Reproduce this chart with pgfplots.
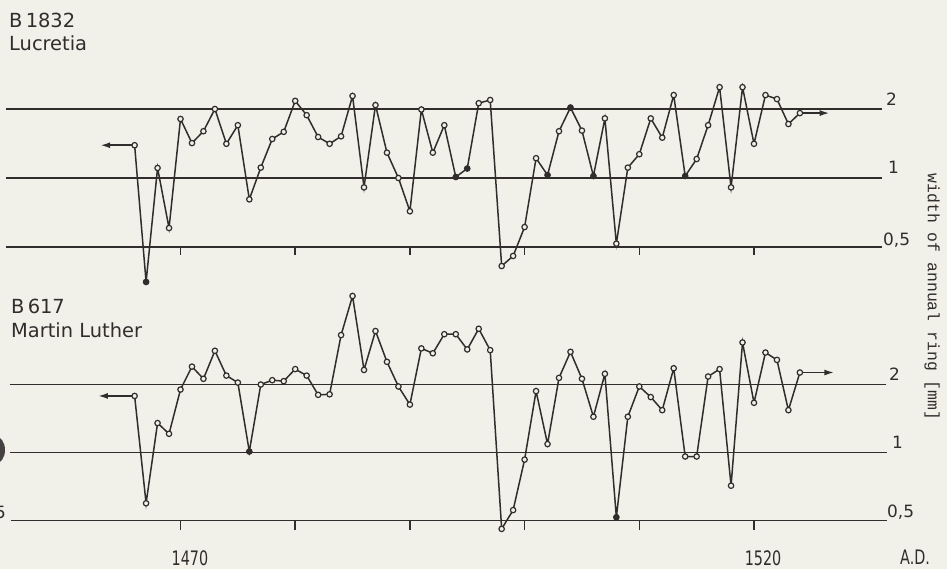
\documentclass[border=0pt]{standalone}
\usepackage{pgfplots}
\pgfplotsset{compat=1.18}
\usepackage{pgfplotstable}
\usepackage{fontspec}
\setmainfont{DejaVu Sans}
\setmonofont{Liberation Mono}
\newfontfamily\narrowfont{DejaVu Sans}[FakeStretch=0.72]
\usetikzlibrary{arrows.meta}
\definecolor{ink}{RGB}{50,45,45}
\definecolor{paper}{RGB}{241,240,233}

\pgfplotstableread{
year width
1466 1.39
1467 0.352
1468 1.106
1469 0.605
1470 1.81
1471 1.42
1472 1.60
1473 2.00
1474 1.41
1475 1.70
1476 0.807
1477 1.11
1478 1.48
1479 1.59
1480 2.17
1481 1.88
1482 1.51
1483 1.41
1484 1.52
1485 2.28
1486 0.91
1487 2.08
1488 1.29
1489 1.00
1490 0.716
1491 1.99
1492 1.29
1493 1.70
1494 1.01
1495 1.10
1496 2.12
1497 2.19
1498 0.413
1499 0.457
1500 0.611
1501 1.22
1502 1.03
1503 1.60
1504 2.03
1505 1.61
1506 1.02
1507 1.82
1508 0.517
1509 1.11
1510 1.27
1511 1.82
1512 1.50
1513 2.30
1514 1.02
1515 1.21
1516 1.70
1517 2.49
1518 0.91
1519 2.49
1520 1.41
1521 2.30
1522 2.21
1523 1.72
1524 1.92
}\lucretia

\pgfplotstableread{
year width
1467 0.352
1494 1.01
1495 1.10
1502 1.03
1504 2.03
1506 1.02
1514 1.02
}\lucretiafilled

\pgfplotstableread{
year width
1466 1.78
1467 0.596
1468 1.35
1469 1.21
1470 1.90
1471 2.40
1472 2.12
1473 2.82
1474 2.19
1475 2.04
1476 1.01
1477 2.00
1478 2.09
1479 2.07
1480 2.34
1481 2.19
1482 1.80
1483 1.81
1484 3.31
1485 4.93
1486 2.32
1487 3.45
1488 2.52
1489 1.96
1490 1.63
1491 2.89
1492 2.75
1493 3.34
1494 3.34
1495 2.86
1496 3.53
1497 2.84
1498 0.459
1499 0.556
1500 0.93
1501 1.87
1502 1.09
1503 2.14
1504 2.79
1505 2.12
1506 1.44
1507 2.23
1508 0.517
1509 1.44
1510 1.96
1511 1.76
1512 1.54
1513 2.36
1514 0.96
1515 0.96
1516 2.17
1517 2.34
1518 0.713
1519 3.07
1520 1.66
1521 2.77
1522 2.57
1523 1.54
1524 2.26
}\luther

\pgfplotstableread{
year width
1476 1.01
1508 0.517
}\lutherfilled

\pgfplotsset{
  series/.style={ink, line width=1.5bp, mark=*, mark size=2.7bp,
    mark options={fill=paper, draw=ink, line width=1.2bp}},
  filledmarks/.style={only marks, mark=*, mark size=2.7bp,
    mark options={fill=ink, draw=ink}},
  refline/.style={ink, line width=1.4bp},
  tickmark/.style={ink, line width=1.5bp},
  arrowline/.style={ink, line width=1.8bp, -{Latex[length=10bp,width=6bp]}},
}

\begin{document}
\begin{tikzpicture}
\useasboundingbox (0,0) rectangle (947bp,-569bp);
\fill[paper] (0,0) rectangle (947bp,-569bp);

% ---------- top panel: B 1832 Lucretia ----------
\begin{axis}[hide axis, clip=false, scale only axis,
    width=917.6bp, xmin=1455, xmax=1535, ymode=log,
    anchor=south west, at={(8.45bp,-316bp)}, height=276bp, ymin=0.25, ymax=4]
  \addplot[refline] coordinates {(1454.8,2) (1531.2,2)};
  \addplot[refline] coordinates {(1454.8,1) (1531.2,1)};
  \addplot[refline] coordinates {(1454.8,0.5) (1531.2,0.5)};
  \addplot[tickmark] coordinates {(1470,0.5) (1470,0.46)};
  \addplot[tickmark] coordinates {(1480,0.5) (1480,0.46)};
  \addplot[tickmark] coordinates {(1490,0.5) (1490,0.46)};
  \addplot[tickmark] coordinates {(1500,0.5) (1500,0.46)};
  \addplot[tickmark] coordinates {(1510,0.5) (1510,0.46)};
  \addplot[tickmark] coordinates {(1520,0.5) (1520,0.46)};
  \addplot[arrowline] coordinates {(1466,1.39) (1463,1.39)};
  \addplot[arrowline] coordinates {(1524,1.92) (1526.6,1.92)};
  \addplot[series] table[x=year, y=width] {\lucretia};
  \addplot[filledmarks] table[x=year, y=width] {\lucretiafilled};
\end{axis}

% ---------- bottom panel: B 617 Martin Luther ----------
\begin{axis}[hide axis, clip=false, scale only axis,
    width=917.6bp, xmin=1455, xmax=1535, ymode=log,
    anchor=south west, at={(8.45bp,-588.5bp)}, height=340bp, ymin=0.25, ymax=8]
  \addplot[refline] coordinates {(1455.1,2) (1531.5,2)};
  \addplot[refline] coordinates {(1455.1,1) (1531.6,1)};
  \addplot[refline] coordinates {(1455.2,0.5) (1531.6,0.5)};
  \addplot[tickmark] coordinates {(1470,0.5) (1470,0.455)};
  \addplot[tickmark] coordinates {(1480,0.5) (1480,0.455)};
  \addplot[tickmark] coordinates {(1490,0.5) (1490,0.455)};
  \addplot[tickmark] coordinates {(1500,0.5) (1500,0.455)};
  \addplot[tickmark] coordinates {(1510,0.5) (1510,0.455)};
  \addplot[tickmark] coordinates {(1520,0.5) (1520,0.455)};
  \addplot[arrowline] coordinates {(1466,1.78) (1462.8,1.78)};
  \addplot[arrowline] coordinates {(1524,2.26) (1527,2.26)};
  \addplot[series] table[x=year, y=width] {\luther};
  \addplot[filledmarks] table[x=year, y=width] {\lutherfilled};
\end{axis}

% ---------- texts ----------
\begin{scope}[every node/.style={text=ink, inner sep=0pt}]
  \node[anchor=base west, font=\fontsize{19.5}{22}\selectfont] at (9bp,-27bp) {B\,1832};
  \node[anchor=base west, font=\fontsize{19.5}{22}\selectfont] at (9bp,-50bp) {Lucretia};
  \node[anchor=base west, font=\fontsize{19.5}{22}\selectfont] at (11bp,-313bp) {B\,617};
  \node[anchor=base west, font=\fontsize{19.5}{22}\selectfont] at (11bp,-337bp) {Martin Luther};

  \node[anchor=base west, font=\fontsize{17}{18}\selectfont] at (886bp,-105bp) {2};
  \node[anchor=base west, font=\fontsize{17}{18}\selectfont] at (888bp,-173bp) {1};
  \node[anchor=base west, font=\fontsize{17}{18}\selectfont] at (883bp,-245bp) {0,5};
  \node[anchor=base west, font=\fontsize{17}{18}\selectfont] at (889bp,-380bp) {2};
  \node[anchor=base west, font=\fontsize{17}{18}\selectfont] at (892bp,-448bp) {1};
  \node[anchor=base west, font=\fontsize{17}{18}\selectfont] at (887bp,-517bp) {0,5};
  \node[anchor=base east, font=\fontsize{17}{18}\selectfont] at (6bp,-518bp) {0,5};

  \node[anchor=base, font=\narrowfont\fontsize{20}{22}\selectfont] at (190bp,-565bp) {1470};
  \node[anchor=base, font=\narrowfont\fontsize{20}{22}\selectfont] at (763bp,-565bp) {1520};
  \node[anchor=base west, font=\narrowfont\fontsize{20}{22}\selectfont] at (900bp,-564bp) {A.D.};

  \node[rotate=-90, font=\ttfamily\fontsize{16.5}{20}\selectfont] at (932bp,-297bp) {width of annual ring [mm]};
\end{scope}
\fill[ink!90] (-5bp,-450bp) ellipse (10bp and 14bp);
\end{tikzpicture}
\end{document}
